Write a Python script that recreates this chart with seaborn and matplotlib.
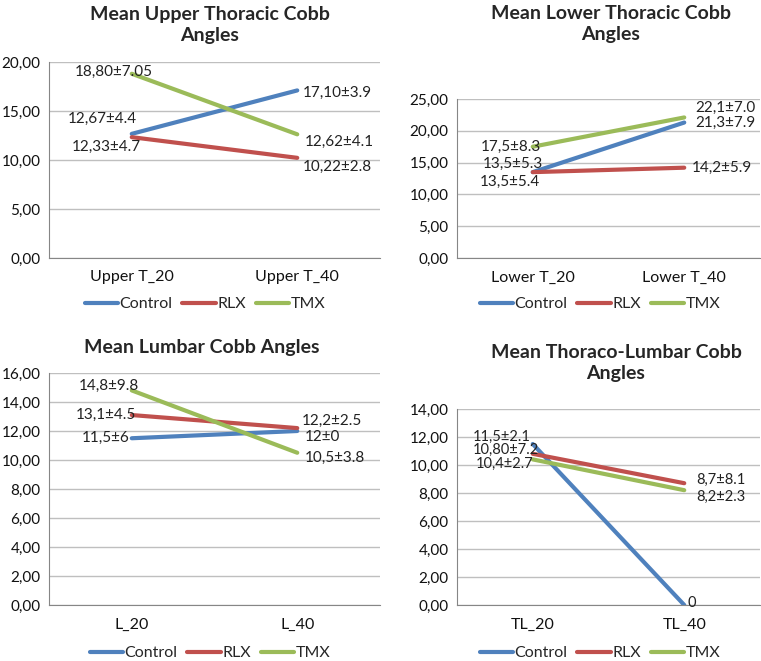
import pandas as pd
import seaborn as sns
import matplotlib.pyplot as plt
from matplotlib.lines import Line2D
from matplotlib.ticker import FuncFormatter, MultipleLocator

groups = ['Control', 'RLX', 'TMX']
colors = ['#4F81BD', '#C0504D', '#9BBB59']

# upper thoracic
ut_cats = ['Upper T_20', 'Upper T_40']
ut_control = [12.67, 17.10]
ut_rlx = [12.33, 10.22]
ut_tmx = [18.80, 12.62]
ut_labels = [['12,67±4.4', '17,10±3.9'], ['12,33±4.7', '10,22±2.8'], ['18,80±7.05', '12,62±4.1']]

# lower thoracic
lt_cats = ['Lower T_20', 'Lower T_40']
lt_control = [13.5, 21.3]
lt_rlx = [13.5, 14.2]
lt_tmx = [17.5, 22.1]
lt_labels = [['13,5±5.3', '21,3±7.9'], ['13,5±5.4', '14,2±5.9'], ['17,5±8.3', '22,1±7.0']]

# lumbar
l_cats = ['L_20', 'L_40']
l_control = [11.5, 12.0]
l_rlx = [13.1, 12.2]
l_tmx = [14.8, 10.5]
l_labels = [['11,5±6', '12±0'], ['13,1±4.5', '12,2±2.5'], ['14,8±9.8', '10,5±3.8']]

# thoraco-lumbar
tl_cats = ['TL_20', 'TL_40']
tl_control = [11.5, 0.0]
tl_rlx = [10.80, 8.7]
tl_tmx = [10.4, 8.2]
tl_labels = [['11,5±2.1', '0'], ['10,80±7.2', '8,7±8.1'], ['10,4±2.7', '8,2±2.3']]

sns.set_style('white')
plt.rcParams['font.family'] = ['Lato', 'DejaVu Sans']

fig = plt.figure(figsize=(7.61, 6.61), dpi=100)
W, H = 761, 661


def px_axes(x0, y0, x1, y1):
    return fig.add_axes([x0 / W, 1 - y1 / H, (x1 - x0) / W, (y1 - y0) / H])


def draw(ax, cats, vals, labels, ymax, step, offsets, lsize):
    rows = []
    for g, v in zip(groups, vals):
        for c, y in zip(cats, v):
            rows.append({'cat': c, 'val': y, 'group': g})
    df = pd.DataFrame(rows)
    sns.lineplot(data=df, x='cat', y='val', hue='group', palette=colors,
                 linewidth=3, ax=ax, legend=False, sort=False)
    ax.set_xlim(-0.5, 1.5)
    ax.set_ylim(0, ymax)
    ax.yaxis.set_major_locator(MultipleLocator(step))
    ax.yaxis.set_major_formatter(FuncFormatter(lambda v, p: f'{v:.2f}'.replace('.', ',')))
    ax.grid(axis='y', color='#BFBFBF', linewidth=1)
    ax.set_axisbelow(True)
    for s in ['top', 'right']:
        ax.spines[s].set_visible(False)
    for s in ['left', 'bottom']:
        ax.spines[s].set_color('#868686')
    ax.tick_params(length=0, colors='#111111')
    ax.tick_params(axis='y', pad=6, labelsize=11)
    ax.tick_params(axis='x', pad=9, labelsize=11.5)
    ax.set_xlabel('')
    ax.set_ylabel('')
    for gi in range(3):
        for ci in range(2):
            dx, dy = offsets[gi][ci]
            ax.annotate(labels[gi][ci], (ci, vals[gi][ci]), xytext=(dx, dy),
                        textcoords='offset pixels', ha='center', va='center',
                        fontsize=lsize, color='#222222', annotation_clip=False)


ax1 = px_axes(49, 62, 380, 258)
draw(ax1, ut_cats, [ut_control, ut_rlx, ut_tmx], ut_labels, 20, 5,
     [[(-29, 15), (40, -2)], [(-25, -10), (40, -9)], [(-18, 2), (42, -8)]], 11)
ax2 = px_axes(457, 99, 760, 258)
draw(ax2, lt_cats, [lt_control, lt_rlx, lt_tmx], lt_labels, 25, 5,
     [[(-20, 8), (41, 0)], [(-23, -10), (38, 0)], [(-22, 0), (41, 10)]], 11)
ax3 = px_axes(49, 373, 380, 605)
draw(ax3, l_cats, [l_control, l_rlx, l_tmx], l_labels, 16, 2,
     [[(-26, 0), (25, -6)], [(-26, 0), (35, 7)], [(-23, 5), (38, -5)]], 11)
ax4 = px_axes(457, 409, 760, 605)
draw(ax4, tl_cats, [tl_control, tl_rlx, tl_tmx], tl_labels, 14, 2,
     [[(-31, 7), (7, 2)], [(-27, 4), (37, 3)], [(-28, -4), (37, -7)]], 10.5)

titles = [('Mean Upper Thoracic Cobb\nAngles', 210, 25),
          ('Mean Lower Thoracic Cobb\nAngles', 611, 24),
          ('Mean Lumbar Cobb Angles', 202, 348),
          ('Mean Thoraco-Lumbar Cobb\nAngles', 616, 363)]
for t, x, y in titles:
    fig.text(x / W, 1 - y / H, t, ha='center', va='center', fontsize=14,
             fontweight='bold', linespacing=1.3)

handles = [Line2D([], [], color=c, linewidth=3) for c in colors]
for x, y in [(205, 304), (600, 304), (210, 653), (600, 653)]:
    fig.legend(handles, groups, loc='center', bbox_to_anchor=(x / W, 1 - y / H),
               ncol=3, frameon=False, fontsize=11.5, handlelength=2.1,
               handletextpad=0.1, columnspacing=0.6)

fig.savefig('out.png', dpi=100)
